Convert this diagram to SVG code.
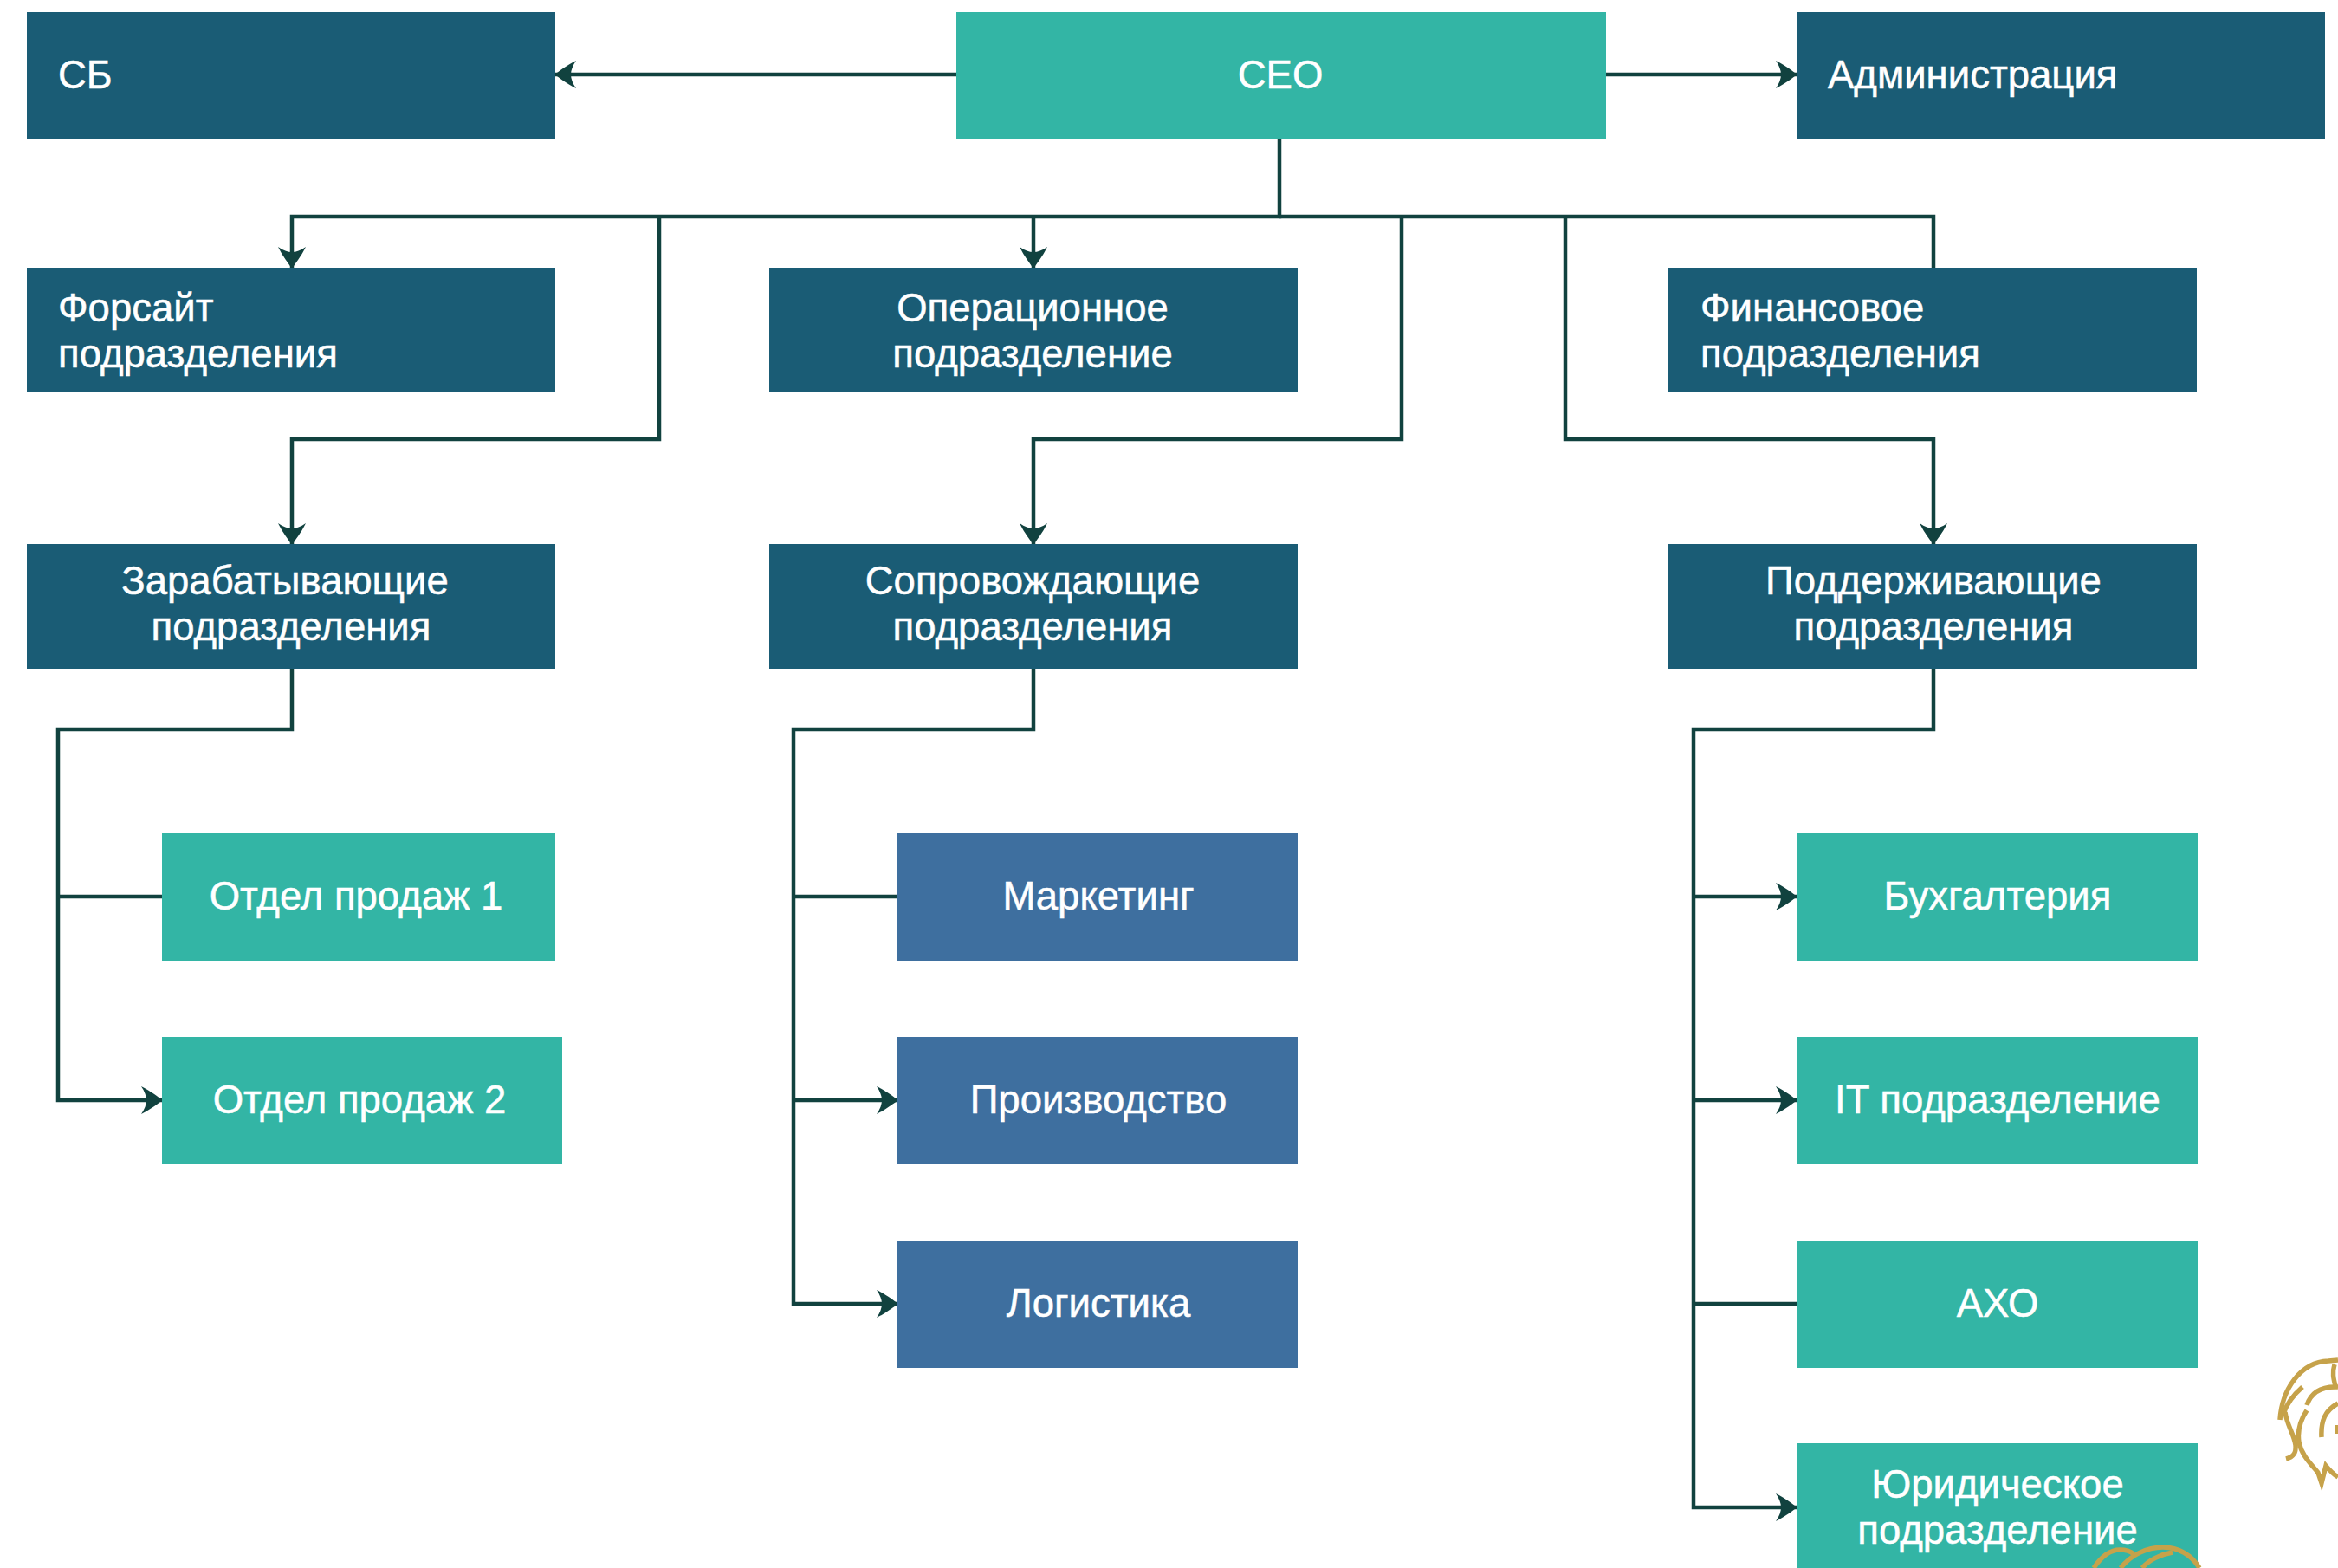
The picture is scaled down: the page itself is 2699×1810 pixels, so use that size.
<svg xmlns="http://www.w3.org/2000/svg" width="2699" height="1810" viewBox="0 0 2699 1810">
<style>
.dark{fill:#1a5c75}.teal{fill:#33b5a5}.blue{fill:#3e6f9f}
text{font-family:"Liberation Sans",Arial,sans-serif;font-size:45.5px;fill:#fff;stroke:#fff;stroke-width:.5px}
.m{text-anchor:middle}
.c{fill:none;stroke:#11423f;stroke-width:4.5;stroke-linejoin:miter}
.a{marker-end:url(#arr)}
.g{fill:none;stroke:#c6a24a;stroke-width:5.5}
</style>
<defs>
<marker id="arr" markerUnits="userSpaceOnUse" markerWidth="32" markerHeight="32" refX="27" refY="16" orient="auto" viewBox="0 0 32 32">
<path d="M28 16C22 20 15 26 3 32C7 26 9 21 9 16C9 11 7 6 3 0C15 6 22 12 28 16Z" fill="#11423f"/>
</marker>
</defs>
<rect width="2699" height="1810" fill="#fff"/>
<g id="connectors">
<path class="c a" d="M1104 86H641"/>
<path class="c a" d="M1854 86H2074"/>
<path class="c a" d="M1477 161V250H337V309"/>
<path class="c a" d="M761 250V507H337V628"/>
<path class="c a" d="M1193 250V309"/>
<path class="c a" d="M1618 250V507H1193V628"/>
<path class="c" d="M1477 250H2232V309"/>
<path class="c a" d="M1807 250V507H2232V628"/>
<path class="c a" d="M337 772V842H67V1270H187"/>
<path class="c" d="M67 1035H187"/>
<path class="c a" d="M1193 772V842H916V1505H1036"/>
<path class="c" d="M916 1035H1036"/>
<path class="c a" d="M916 1270H1036"/>
<path class="c a" d="M2232 772V842H1955V1740H2074"/>
<path class="c a" d="M1955 1035H2074"/>
<path class="c a" d="M1955 1270H2074"/>
<path class="c" d="M1955 1505H2074"/>
</g>
<g id="sb"><rect class="dark" x="31" y="14" width="610" height="147"/><text x="67" y="102">СБ</text></g>
<g id="ceo"><rect class="teal" x="1104" y="14" width="750" height="147"/><text class="m" x="1478" y="102">CEO</text></g>
<g id="admin"><rect class="dark" x="2074" y="14" width="610" height="147"/><text x="2110" y="102">Администрация</text></g>
<g id="foresight"><rect class="dark" x="31" y="309" width="610" height="144"/><text x="67" y="371">Форсайт</text><text x="67" y="424">подразделения</text></g>
<g id="oper"><rect class="dark" x="888" y="309" width="610" height="144"/><text class="m" x="1192" y="371">Операционное</text><text class="m" x="1192" y="424">подразделение</text></g>
<g id="fin"><rect class="dark" x="1926" y="309" width="610" height="144"/><text x="1963" y="371">Финансовое</text><text x="1963" y="424">подразделения</text></g>
<g id="earn"><rect class="dark" x="31" y="628" width="610" height="144"/><text class="m" x="329" y="686">Зарабатывающие</text><text class="m" x="336" y="739">подразделения</text></g>
<g id="escort"><rect class="dark" x="888" y="628" width="610" height="144"/><text class="m" x="1192" y="686">Сопровождающие</text><text class="m" x="1192" y="739">подразделения</text></g>
<g id="support"><rect class="dark" x="1926" y="628" width="610" height="144"/><text class="m" x="2232" y="686">Поддерживающие</text><text class="m" x="2232" y="739">подразделения</text></g>
<g id="sales1"><rect class="teal" x="187" y="962" width="454" height="147"/><text class="m" x="411" y="1050">Отдел продаж 1</text></g>
<g id="sales2"><rect class="teal" x="187" y="1197" width="462" height="147"/><text class="m" x="415" y="1285">Отдел продаж 2</text></g>
<g id="marketing"><rect class="blue" x="1036" y="962" width="462" height="147"/><text class="m" x="1268" y="1050">Маркетинг</text></g>
<g id="production"><rect class="blue" x="1036" y="1197" width="462" height="147"/><text class="m" x="1268" y="1285">Производство</text></g>
<g id="logistics"><rect class="blue" x="1036" y="1432" width="462" height="147"/><text class="m" x="1268" y="1520">Логистика</text></g>
<g id="accounting"><rect class="teal" x="2074" y="962" width="463" height="147"/><text class="m" x="2306" y="1050">Бухгалтерия</text></g>
<g id="it"><rect class="teal" x="2074" y="1197" width="463" height="147"/><text class="m" x="2306" y="1285">IT подразделение</text></g>
<g id="aho"><rect class="teal" x="2074" y="1432" width="463" height="147"/><text class="m" x="2306" y="1520">АХО</text></g>
<g id="legal"><rect class="teal" x="2074" y="1666" width="463" height="144"/><text class="m" x="2306" y="1729">Юридическое</text><text class="m" x="2306" y="1782">подразделение</text></g>
<path class="g" d="M2417 1810C2425 1798 2435 1789 2447 1789C2455 1789 2460 1791 2463 1794"/>
<path class="g" d="M2448 1810C2460 1795 2478 1786 2497 1786C2515 1786 2530 1795 2539 1810"/>
<path class="g" d="M2473 1810C2480 1801 2495 1794 2508 1792"/>
<path class="g" d="M2632 1639C2634 1605 2655 1572 2688 1571L2699 1570"/>
<path class="g" stroke-width="7" d="M2636 1632C2640 1620 2650 1608 2658 1601"/>
<path class="g" d="M2638 1630C2640 1645 2648 1655 2650 1668C2651 1678 2647 1682 2639 1684"/>
<path class="g" d="M2663 1628C2655 1640 2652 1652 2654 1665C2657 1680 2668 1690 2676 1700L2680 1712L2685 1692C2690 1698 2694 1702 2699 1705"/>
<path class="g" d="M2663 1622C2668 1607 2680 1600 2699 1601"/>
<path class="g" d="M2680 1659C2679 1640 2684 1628 2699 1620"/>
<path class="g" stroke-width="6" d="M2695 1575C2692 1585 2694 1592 2696 1600"/>
<path class="g" stroke-width="6" d="M2698 1645V1655"/>
</svg>
